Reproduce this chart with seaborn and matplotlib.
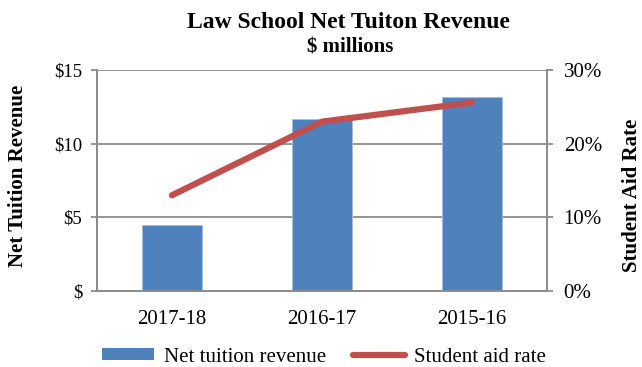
import pandas as pd
import matplotlib.pyplot as plt
import seaborn as sns
from matplotlib.ticker import FuncFormatter, FixedLocator
from matplotlib.patches import Patch
from matplotlib.lines import Line2D

# data
years = ["2017-18", "2016-17", "2015-16"]
net_tuition = [4.5, 11.7, 13.2]        # $ millions
aid_rate = [13.0, 23.0, 25.6]          # percent

BAR_COLOR = "#4F81BD"
LINE_COLOR = "#C0504D"
GRID_COLOR = "#8C8C8C"

sns.set_theme(style="white")
plt.rcParams["font.family"] = ["Liberation Serif", "DejaVu Serif"]
plt.rcParams["text.color"] = "black"
plt.rcParams["xtick.labelcolor"] = "black"
plt.rcParams["ytick.labelcolor"] = "black"

df = pd.DataFrame({"year": years, "revenue": net_tuition, "rate": aid_rate})

fig = plt.figure(figsize=(6.42, 3.67), dpi=100)
ax = fig.add_axes([0.151, 0.207, 0.701, 0.602])

sns.barplot(data=df, x="year", y="revenue", order=years, color=BAR_COLOR,
            width=0.4, saturation=1, edgecolor="#A7C0DE", linewidth=0.6, ax=ax)
ax.set_ylim(0, 15)
ax.set_yticks([0, 5, 10, 15])
ax.yaxis.set_major_formatter(FuncFormatter(lambda v, p: "$" if v == 0 else f"${v:.0f}"))
ax.grid(axis="y", color=GRID_COLOR, linewidth=1.3)
ax.set_axisbelow(True)

ax2 = ax.twinx()
sns.pointplot(data=df, x="year", y="rate", order=years, color=LINE_COLOR,
              markers="", linewidth=4.5, ax=ax2)
for l in ax2.lines:
    l.set_solid_capstyle("round")
ax2.set_ylim(0, 30)
ax2.set_yticks([0, 10, 20, 30])
ax2.yaxis.set_major_formatter(FuncFormatter(lambda v, p: f"{v:.0f}%"))
ax2.grid(False)
ax.set_xlim(-0.5, 2.5)

# category boundary ticks on x axis
ax.xaxis.set_minor_locator(FixedLocator([-0.5, 0.5, 1.5, 2.5]))
ax.tick_params(axis="x", which="major", length=0, labelsize=15, pad=14)
ax.tick_params(axis="x", which="minor", length=4, width=1.3, color=GRID_COLOR, direction="out")
ax.tick_params(axis="y", length=4, width=1.3, color=GRID_COLOR, labelsize=13.5, left=True,
               direction="out", pad=6.5)
ax2.tick_params(axis="y", length=4, width=1.3, color=GRID_COLOR, labelsize=15, right=True,
                direction="out", pad=8)

for a in (ax, ax2):
    for side, sp in a.spines.items():
        sp.set_color(GRID_COLOR)
        sp.set_linewidth(1.3)
    a.spines["top"].set_visible(False)

ax.set_xlabel("")
ax.set_ylabel("")
ax2.set_xlabel("")
ax2.set_ylabel("")
fig.text(18 / 642, 1 - 176 / 367, "Net Tuition Revenue", rotation=90, ha="center", va="center",
         fontsize=15, fontweight="bold")
fig.text(632 / 642, 1 - 195 / 367, "Student Aid Rate", rotation=90, ha="center", va="center",
         fontsize=15, fontweight="bold")

fig.text(348 / 642, 1 - 22 / 367, "Law School Net Tuiton Revenue", ha="center", va="center",
         fontsize=17, fontweight="bold")
fig.text(350 / 642, 1 - 47 / 367, "$ millions", ha="center", va="center",
         fontsize=15, fontweight="bold")

handles = [Patch(facecolor=BAR_COLOR, edgecolor="none"),
           Line2D([], [], color=LINE_COLOR, linewidth=4.5, solid_capstyle="round")]
fig.legend(handles, ["Net tuition revenue", "Student aid rate"], loc="center",
           bbox_to_anchor=(0.505, 1 - 357 / 367), ncol=2, frameon=False, fontsize=15,
           handlelength=2.5, handleheight=0.5, columnspacing=1.3, handletextpad=0.45,
           borderaxespad=0, borderpad=0)

fig.savefig("out.png", dpi=100)
plt.close()
